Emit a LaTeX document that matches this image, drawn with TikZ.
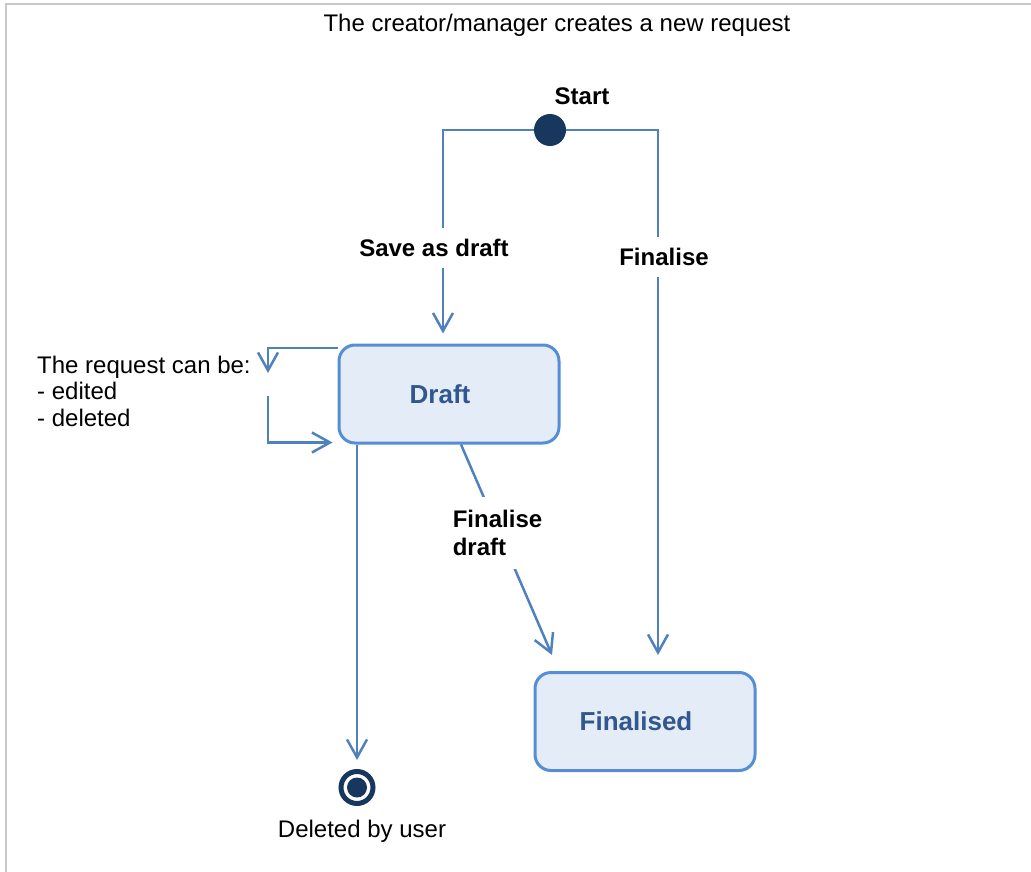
\documentclass[tikz,border=0pt]{standalone}
\usepackage{fontspec}
\setmainfont{Liberation Sans}
\usetikzlibrary{arrows.meta}

\definecolor{flowblue}{HTML}{4F81BD}
\definecolor{stateline}{HTML}{558ED5}
\definecolor{statefill}{HTML}{E4ECF7}
\definecolor{statetext}{HTML}{30578E}
\definecolor{dotblue}{HTML}{17375E}
\definecolor{framegray}{HTML}{C8C8C8}

\begin{document}
\begin{tikzpicture}[x=1pt, y=-1pt,
    txt/.style={font=\fontsize{24}{26.5}\selectfont, inner sep=0pt},
    lbl/.style={font=\fontsize{24}{28}\selectfont\bfseries, fill=white, inner xsep=3pt, inner ysep=11pt},
    state/.style={draw=stateline, fill=statefill, line width=3pt, rounded corners=16pt,
        minimum width=220pt, minimum height=98pt},
    statename/.style={text=statetext, font=\fontsize{26}{30}\selectfont\bfseries},
    flow/.style={draw=flowblue, line width=2.5pt, -{Straight Barb[length=18pt,width=20pt]}}]

        \useasboundingbox (0,0) rectangle (1031,872);
        \draw[framegray, line width=2.5pt] (6,872) -- (6,4) -- (1031,4);

        \coordinate (saveup) at (443,130);
        \coordinate (finup) at (658,130);
        \coordinate (loopin) at (268,373);
        \coordinate (loopout) at (268,396);

        \node[circle, fill=dotblue, minimum size=32pt, inner sep=0pt] (start) at (550,130) {};
        \node[state, label={[statename, xshift=-9pt]center:Draft}] (draft) at (449,394) {};
        \node[state, label={[statename, xshift=-9pt]center:Finalised}] (final) at (645,721.5) {};
        \node[circle, draw=dotblue, line width=5pt, minimum size=32pt, inner sep=0pt] (deleted) at (357,787.5) {};
        \fill[dotblue] (deleted.center) circle (10pt);

        \draw[flow, shorten >=10pt] (start.west) -- (saveup) -- (saveup |- draft.north);
        \draw[flow, shorten >=16pt] (start.east) -- (finup) -- (finup |- final.north);
        \draw[flow, shorten >=9pt] (draft.south -| deleted) -- (deleted.north);
        \draw[flow] ([xshift=12pt]draft.south) -- ([xshift=-93pt, yshift=16pt]final.north);
        \draw[flow] ([yshift=-4.5pt]draft.north west) -| (loopin);
        \draw[flow, shorten >=5pt] (loopout) |- ([yshift=2pt]draft.south west);

        \node[txt] (title) at (557,25) {The creator/manager creates a new request};
        \node[txt, font=\fontsize{24}{26.5}\selectfont\bfseries] (startlbl) at (582,96) {Start};
        \node[txt, align=left, anchor=north west] (note) at (37,355.5) {The request can be:\\- edited\\- deleted};
        \node[txt] (dellbl) at (362,831) {Deleted by user};

        \node[lbl] (savelbl) at (434,248) {Save as draft};
        \node[lbl] (finlbl) at (664,257) {Finalise};
        \node[lbl, align=left, inner ysep=13pt] (fdlbl) at (497.5,533) {Finalise\\draft};
    \end{tikzpicture}
\end{document}
